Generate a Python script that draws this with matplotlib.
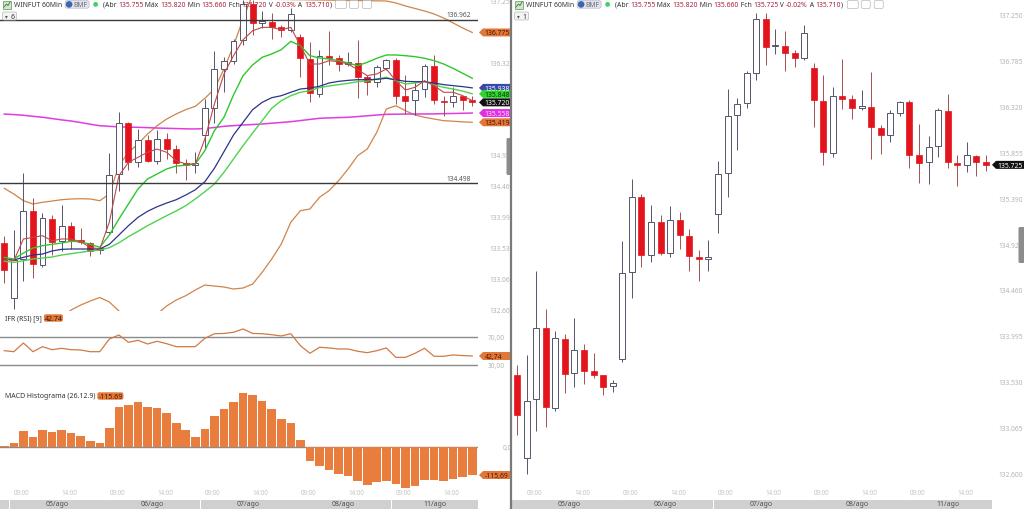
import numpy as np
import matplotlib.pyplot as plt
from matplotlib.patches import Polygon, Rectangle, FancyBboxPatch, Circle
from matplotlib.ticker import FuncFormatter

W, H = 1024, 510
plt.rcParams['font.family'] = ['Noto Sans', 'DejaVu Sans']

# ---- dados (WINFUT 60min) ----
opens = [133600, 132760, 133360, 134080, 133270, 133965, 133620, 133855, 133640, 133600,
         133485, 133765, 134640, 135405, 134815, 135145, 134835, 135170, 135010, 134795,
         134775, 135230, 135640, 136230, 136350, 136655, 137200, 136925, 136930, 136860,
         136805, 136705, 136375, 135850, 136420, 136390, 136305, 136315, 136100, 136030,
         136245, 136365, 135820, 135750, 135915, 136270, 135745, 135725, 135810, 135755]
highs = [133700, 133800, 134650, 134270, 134050, 134015, 134175, 133915, 133825, 133605,
         133550, 134960, 135580, 135430, 135320, 135220, 135305, 135250, 135075, 134860,
         134970, 135765, 136490, 136400, 136675, 137265, 137265, 137100, 137075, 136890,
         137140, 136755, 136635, 136510, 136795, 136430, 136485, 136665, 136130, 136280,
         136375, 136385, 136140, 136020, 136295, 136440, 135820, 135955, 135820, 135820]
lows = [132995, 132600, 133030, 133070, 133240, 133415, 133475, 133505, 133575, 133400,
        133425, 133735, 134380, 134695, 134740, 134815, 134790, 134870, 134655, 134555,
        134650, 135035, 135405, 135875, 136305, 136585, 136730, 136845, 136675, 136710,
        136785, 136105, 135725, 135800, 136285, 136190, 136275, 135780, 135830, 135955,
        136215, 135690, 135540, 135530, 135800, 135690, 135515, 135655, 135610, 135660]
closes = [133195, 133340, 134080, 133275, 133970, 133610, 133855, 133645, 133605, 133475,
          133520, 134630, 135405, 134815, 135145, 134835, 135170, 135015, 134800, 134775,
          134780, 135635, 136220, 136345, 136650, 137200, 136920, 136930, 136855, 136810,
          137060, 136385, 135860, 136420, 136390, 136300, 136315, 136105, 136025, 136250,
          136365, 135820, 135745, 135910, 136275, 135750, 135725, 135820, 135755, 135725]

ma_fast = [133355, 133329, 133657, 133682, 133707, 133631, 133657, 133657, 133616, 133531,
           133506, 133913, 134612, 134815, 134890, 134966, 135015, 134966, 134839, 134789,
           134789, 135166, 135695, 136148, 136424, 136665, 136801, 136852, 136852, 136816,
           136852, 136575, 136299, 136299, 136349, 136334, 136299, 136213, 136123, 136148,
           136223, 136047, 135906, 135947, 136047, 135972, 135872, 135872, 135820, 135745]
ma_green1 = [133380, 133355, 133445, 133521, 133556, 133577, 133596, 133622, 133616, 133577,
             133531, 133717, 133959, 134185, 134412, 134563, 134638, 134714, 134759, 134770,
             134789, 134990, 135292, 135494, 135831, 136122, 136284, 136400, 136450, 136515,
             136641, 136575, 136424, 136390, 136374, 136349, 136314, 136273, 136324, 136385,
             136435, 136435, 136424, 136410, 136385, 136349, 136299, 136233, 136158, 136083]
ma_green2 = [133320, 133305, 133329, 133355, 133370, 133385, 133415, 133435, 133456, 133476,
             133491, 133526, 133600, 133692, 133773, 133858, 133933, 134009, 134080, 134160,
             134261, 134371, 134487, 134664, 134865, 135066, 135257, 135443, 135630, 135745,
             135820, 135872, 135896, 135942, 135967, 135987, 136007, 136032, 136042, 136072,
             136098, 136047, 135997, 136012, 136037, 135982, 135947, 135921, 135890, 135848]
ma_navy = [133355, 133340, 133380, 133415, 133430, 133476, 133501, 133506, 133506, 133506,
           133506, 133577, 133717, 133858, 133984, 134075, 134144, 134200, 134250, 134321,
           134400, 134522, 134724, 134975, 135227, 135418, 135609, 135720, 135790, 135820,
           135872, 135921, 135936, 135962, 136012, 136037, 136052, 136062, 136062, 136067,
           136083, 136062, 136037, 136032, 136032, 136012, 135987, 135972, 135957, 135938]
ma_200 = [135544, 135535, 135525, 135509, 135495, 135475, 135455, 135438, 135415, 135390,
          135367, 135358, 135350, 135345, 135343, 135338, 135332, 135328, 135324, 135320,
          135318, 135325, 135340, 135358, 135368, 135378, 135385, 135393, 135405, 135416,
          135428, 135445, 135462, 135479, 135485, 135490, 135494, 135505, 135517, 135528,
          135539, 135541, 135543, 135544, 135544, 135546, 135549, 135552, 135555, 135558]
bb_upper = [134422, 134336, 134235, 134185, 134211, 134230, 134250, 134261, 134265, 134261,
            134235, 134336, 134764, 134966, 135091, 135242, 135367, 135468, 135544, 135610,
            135660, 135781, 135921, 136223, 136575, 136978, 137350, 137600, 137780, 137900,
            137950, 137960, 137900, 137800, 137700, 137600, 137500, 137420, 137340, 137280,
            137250, 137220, 137175, 137137, 137099, 137054, 136993, 136918, 136842, 136775]
bb_lower = [132298, 132223, 132147, 132147, 132223, 132374, 132479, 132585, 132660, 132721,
            132774, 132706, 132570, 132449, 132374, 132374, 132525, 132645, 132736, 132801,
            132887, 132962, 132947, 132932, 132902, 132917, 132977, 133154, 133355, 133581,
            133909, 134084, 134110, 134286, 134386, 134537, 134714, 134915, 135015, 135267,
            135619, 135669, 135594, 135529, 135494, 135468, 135443, 135435, 135425, 135419]

rsi = [50.2, 48.8, 61.1, 48.8, 55.9, 51.6, 53.6, 51.6, 51.2, 48.8,
       48.8, 66.7, 72.4, 62.1, 64.9, 59.7, 63.5, 60.1, 55.9, 55.9,
       55.9, 67.7, 74.2, 74.6, 76.2, 80.9, 74.6, 74.2, 72.8, 71.0,
       74.2, 57.3, 46.5, 55.0, 54.1, 52.6, 52.6, 49.4, 47.4, 50.2,
       54.1, 40.8, 40.8, 46.5, 53.6, 42.3, 42.3, 44.2, 43.3, 42.74]
macd_hist = [4, 13.6, 62.7, 38, 69.5, 60, 69.5, 55.9, 42.3, 23,
             15, 77.7, 163.6, 170.4, 184, 160.8, 159.5, 137.7, 98.1, 66.8,
             38.2, 72.2, 124, 154, 181.3, 218, 210, 186.7, 152.7, 113,
             95.4, 25.9, -58.6, -77.7, -94, -110.4, -121.3, -140.4, -155.4, -145.8,
             -140.4, -154, -167.6, -159.5, -136.3, -137.7, -140.4, -132.2, -124, -115.69]

price_ticks = [132600, 133065, 133530, 133995, 134460, 134925, 135390, 135855, 136320, 136785, 137250]
lines_h = [136962, 134498]
day_labels = ['05/ago', '06/ago', '07/ago', '08/ago', '11/ago']
hour_labels = ['09:00', '14:00']

RED = '#e3141c'
ORANGE = '#e87d3e'
TAGOR = '#e2773a'

fig = plt.figure(figsize=(W / 100, H / 100), dpi=100)


def axes_px(x0, y0, x1, y1):
    return fig.add_axes([x0 / W, 1 - y1 / H, (x1 - x0) / W, (y1 - y0) / H])


def clean(ax):
    for s in ax.spines.values():
        s.set_visible(False)
    ax.set_xticks([])
    ax.tick_params(axis='y', length=0, labelsize=4.8, labelcolor='#b4b4b4')
    ax.yaxis.tick_right()


def candles(ax, min_h):
    idx = np.arange(len(opens))
    o = np.array(opens)
    c = np.array(closes)
    hi = np.array(highs)
    lo = np.array(lows)
    up = c >= o
    ax.vlines(idx[up], lo[up], hi[up], color='#55556a', lw=0.7, zorder=3)
    ax.vlines(idx[~up], lo[~up], hi[~up], color='#a25050', lw=0.7, zorder=3)
    bot = np.minimum(o, c)
    hgt = np.maximum(np.abs(c - o), min_h)
    ax.bar(idx[up], hgt[up], bottom=bot[up], width=0.62, facecolor='white',
           edgecolor='#55556a', lw=0.7, zorder=4)
    ax.bar(idx[~up], hgt[~up], bottom=bot[~up], width=0.62, facecolor=RED,
           edgecolor=RED, lw=0.5, zorder=4)


pfmt = FuncFormatter(lambda v, p: f"{v / 1000:.3f}")

# ---- painel esquerdo ----
axL = axes_px(0, 0, 478, 312)
clean(axL)
axL.set_xlim(-0.45, 49.6)
axL.set_ylim(132570, 137280)
axL.set_yticks(price_ticks)
axL.tick_params(axis='y', pad=8)
x = np.arange(len(closes))
axL.plot(x, bb_upper, color='#d0844a', lw=0.9, zorder=2)
axL.plot(x, bb_lower, color='#d0844a', lw=0.9, zorder=2)
axL.plot(x, ma_200, color='#e03ce0', lw=1.1, zorder=2)
candles(axL, 22)
axL.plot(x, ma_green2, color='#4fd24f', lw=1.0, zorder=5)
axL.plot(x, ma_navy, color='#2b3488', lw=0.9, zorder=5)
axL.plot(x, ma_green1, color='#2ec82e', lw=1.0, zorder=5)
axL.plot(x, ma_fast, color='#c04848', lw=0.8, zorder=6)
for v in lines_h:
    axL.axhline(v, color='#3a3a3a', lw=1.0, zorder=7)
    axL.text(48.9, v + 25, f"{v / 1000:.3f}", fontsize=4.8, color='#555555',
             ha='right', va='bottom', zorder=8)

axR = axes_px(0, 312, 478, 372)
clean(axR)
axR.set_xlim(-0.45, 49.6)
axR.set_ylim(21.5, 106.3)
axR.set_yticks([70, 30])
axR.yaxis.set_major_formatter(FuncFormatter(lambda v, p: f"{v:.2f}".replace('.', ',')))
axR.tick_params(axis='y', pad=7)
axR.axhline(70, color='#8a8a8a', lw=1.0)
axR.axhline(30, color='#8a8a8a', lw=1.0)
axR.plot(x, rsi, color='#d07a45', lw=0.9)

axM = axes_px(0, 372, 478, 490)
clean(axM)
axM.set_xlim(-0.45, 49.6)
axM.set_ylim(-173, 309.6)
axM.set_yticks([0])
axM.yaxis.set_major_formatter(FuncFormatter(lambda v, p: "0,00"))
axM.tick_params(axis='y', pad=18)
axM.axhline(0, color='#8a8a8a', lw=1.0, zorder=1)
axM.bar(x, macd_hist, width=0.9, color=ORANGE, zorder=2)

# ---- painel direito ----
axP = axes_px(512, 0, 992, 490)
clean(axP)
axP.set_xlim(-0.52, 49.63)
axP.set_ylim(132448, 137402)
axP.set_yticks(price_ticks)
axP.yaxis.set_major_formatter(pfmt)
axP.tick_params(axis='y', pad=5)
candles(axP, 16)

# ---- sobreposicao em pixels ----
ov = fig.add_axes([0, 0, 1, 1], zorder=20)
ov.set_xlim(0, W)
ov.set_ylim(H, 0)
ov.axis('off')
ov.patch.set_alpha(0)
rend = fig.canvas.get_renderer()


def px_x(ax, i):
    return ax.transData.transform((i, 0))[0]


def px_y(ax, v):
    return H - ax.transData.transform((0, v))[1]


# etiquetas da direita do painel esquerdo (os rotulos de preco ficam atras delas)
left_tags = [(bb_upper[-1], f"{bb_upper[-1] / 1000:.3f}", TAGOR, '#4a1800'),
             (ma_navy[-1], f"{ma_navy[-1] / 1000:.3f}", '#3a48a8', 'white'),
             (ma_green2[-1], f"{ma_green2[-1] / 1000:.3f}", '#2fd42f', '#0a3a0a'),
             (closes[-1] - 5, "135.720", '#111111', 'white'),
             (ma_200[-1], f"{ma_200[-1] / 1000:.3f}", '#e030e0', '#f8d8f8'),
             (bb_lower[-1], f"{bb_lower[-1] / 1000:.3f}", TAGOR, '#4a1800')]
tag_y = [px_y(axL, v) for v, _, _, _ in left_tags]
labs = []
for t in price_ticks:
    yy = px_y(axL, t)
    labs.append('' if min(abs(yy - ty) for ty in tag_y) < 7 else f"{t / 1000:.3f}")
axL.set_yticklabels(labs)


def tag(x0, yc, text, fc, tc, w=33, h=8):
    pts = [(x0, yc), (x0 + 4, yc - h / 2), (x0 + w, yc - h / 2),
           (x0 + w, yc + h / 2), (x0 + 4, yc + h / 2)]
    ov.add_patch(Polygon(pts, closed=True, fc=fc, ec='none'))
    ov.text(x0 + 5.5, yc + 0.2, text, color=tc, fontsize=4.9, fontweight='bold',
            va='center', ha='left')


def put(xp, yp, s, color, weight='normal', size=4.9):
    t = ov.text(xp, yp, s, color=color, fontsize=size, fontweight=weight,
                va='center', ha='left')
    return t.get_window_extent(renderer=rend).x1


def header(x0, fch, var, nsub):
    ov.add_patch(Rectangle((x0 + 3, 1.5), 8, 8, fc='#cfe6c8', ec='#5f8f58', lw=0.5))
    ov.plot([x0 + 4, x0 + 6.5, x0 + 8, x0 + 10], [8, 5, 6.5, 3], color='#3c7a3c', lw=0.6)
    xp = put(x0 + 14, 5.5, 'WINFUT 60Min', '#333333', 'bold')
    ov.add_patch(FancyBboxPatch((xp + 3, 1.6), 24, 7.6, boxstyle='round,pad=0,rounding_size=2',
                                fc='#e2e2ec', ec='#b0b0c0', lw=0.4))
    ov.add_patch(Circle((xp + 7, 5.4), 3.3, fc='#3c64b4', ec='none'))
    xp = put(xp + 11.5, 5.5, 'BMF', '#6a6a7a', 'normal')
    ov.add_patch(Circle((xp + 8, 5.4), 2.4, fc='#3cd26e', ec='none'))
    xp += 15
    parts = [('(Abr ', '#333333'), ('135.755', '#a8203c'), (' Máx ', '#333333'),
             ('135.820', '#a8203c'), (' Min ', '#333333'), ('135.660', '#a8203c'),
             (' Fch ', '#333333'), (fch, '#a8203c'), (' V ', '#333333'),
             (var, '#a8203c'), (' A ', '#333333'), ('135.710', '#a8203c'), (')', '#333333')]
    for s, col in parts:
        xp = put(xp, 5.5, s, col, 'bold')
    for bx, bw in [(xp + 4, 11), (xp + 18, 9), (xp + 31, 9)]:
        ov.add_patch(FancyBboxPatch((bx, 1.5), bw, 8, boxstyle='round,pad=0,rounding_size=1.5',
                                    fc='white', ec='#b8b8b8', lw=0.5))
    ov.add_patch(FancyBboxPatch((x0 + 2.5, 13), 14, 8, boxstyle='round,pad=0,rounding_size=1.5',
                                fc='#f4f4f4', ec='#b8b8b8', lw=0.5))
    ov.text(x0 + 5, 17, '▾', fontsize=4, color='#555555', va='center',
            family=['DejaVu Sans'])
    ov.text(x0 + 10.5, 17.2, nsub, fontsize=5, color='#333333', va='center', fontweight='bold')


header(0, '135.720', '-0.03%', '6')
header(512, '135.725', '-0.02%', '1')

for (v, s, fc, tc), ty in zip(left_tags, tag_y):
    tag(479, ty, s, fc, tc)
tag(479, px_y(axR, rsi[-1]), f"{rsi[-1]:.2f}".replace('.', ','), TAGOR, '#4a1800')
tag(479, px_y(axM, macd_hist[-1]), f"{macd_hist[-1]:.2f}".replace('.', ','), TAGOR, '#4a1800')
tag(992, px_y(axP, closes[-1]), f"{closes[-1] / 1000:.3f}", '#111111', 'white', w=32)

# titulos dos indicadores
xp = put(5, 319, 'IFR (RSI) [9]', '#333333', 'normal', 5)
ov.add_patch(FancyBboxPatch((xp + 2, 315.3), 19, 7.4, boxstyle='round,pad=0,rounding_size=2',
                            fc=TAGOR, ec='none'))
ov.text(xp + 11.5, 319.1, f"{rsi[-1]:.2f}", fontsize=5, color='#4a1800', ha='center',
        va='center', fontweight='bold')
xp = put(5, 397, 'MACD Histograma (26.12.9)', '#333333', 'normal', 5)
ov.add_patch(FancyBboxPatch((xp + 2, 393.3), 26, 7.4, boxstyle='round,pad=0,rounding_size=2',
                            fc=TAGOR, ec='none'))
ov.text(xp + 15, 397.1, f"{macd_hist[-1]:.2f}", fontsize=5, color='#4a1800', ha='center',
        va='center', fontweight='bold')

# eixo de tempo
for ax, xend in [(axM, 478), (axP, 992)]:
    for k in range(10):
        i = 1 + 5 * k
        ov.text(px_x(ax, i), 494, hour_labels[k % 2], fontsize=4.5, color='#c4c4c4',
                ha='left', va='center')
    edges = [px_x(ax, -0.6)] + [px_x(ax, 0.5 + 10 * d) for d in range(5)] + [xend]
    for j in range(len(edges) - 1):
        a, b = edges[j], edges[j + 1]
        ov.add_patch(Rectangle((a + 0.5, 500.5), b - a - 1.2, 8.5, fc='#d0d0d0',
                               ec='#bdbdbd', lw=0.4))
        if j > 0:
            ov.text((a + b) / 2, 505, day_labels[j - 1], fontsize=5, color='#505050',
                    ha='center', va='center')

# separador e abas laterais
ov.plot([511, 511], [0, H], color='#7a7a7a', lw=1.6)
ov.add_patch(FancyBboxPatch((506.5, 139), 5, 37, boxstyle='round,pad=0,rounding_size=1.5',
                            fc='#8c8c8c', ec='none'))
ov.add_patch(FancyBboxPatch((1018.5, 228), 6, 36, boxstyle='round,pad=0,rounding_size=1.5',
                            fc='#8c8c8c', ec='none'))

fig.savefig('out.png', dpi=100)
